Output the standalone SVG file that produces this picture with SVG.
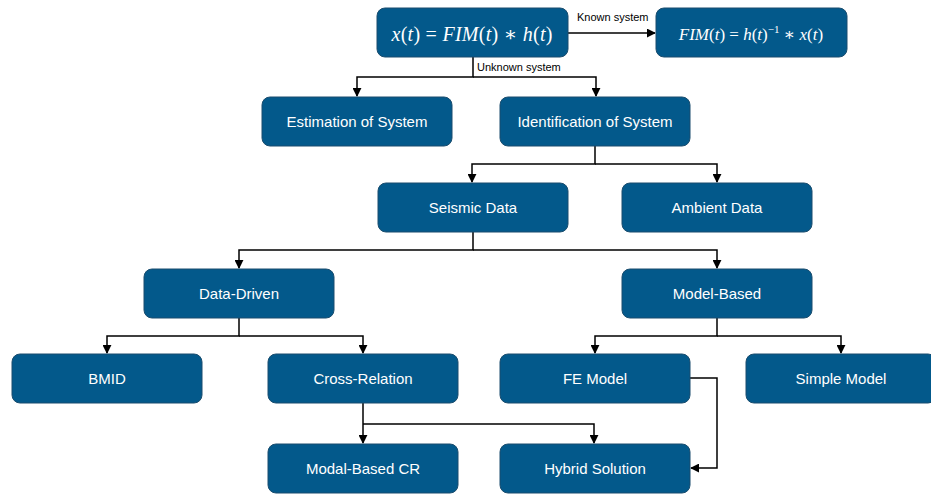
<svg xmlns="http://www.w3.org/2000/svg" width="931" height="496" viewBox="0 0 931 496">
<style>
.box{fill:#03598B;stroke:#1B4D6E;stroke-width:1}
.lbl{fill:#fff;font-family:"Liberation Sans",Arial,sans-serif;font-size:15px;text-anchor:middle}
.math{fill:#fff;font-family:"Liberation Serif","DejaVu Serif",serif;text-anchor:middle}
.it{font-style:italic}
.edge{fill:none;stroke:#000;stroke-width:1.5}
.elbl{fill:#000;font-family:"Liberation Sans",Arial,sans-serif;font-size:11px}
</style>
<defs>
<marker id="arr" viewBox="0 0 10 10" refX="9" refY="5" markerWidth="9" markerHeight="9" markerUnits="userSpaceOnUse" orient="auto">
<path d="M0,0 L10,5 L0,10 z" fill="#000"/>
</marker>
</defs>
<rect width="931" height="496" fill="#fff"/>
<g id="connectors">
<path class="edge" d="M568,33 H655" marker-end="url(#arr)"/>
<text class="elbl" x="577" y="21">Known system</text>
<path class="edge" d="M473,57 V77 H357 V96" marker-end="url(#arr)"/>
<path class="edge" d="M473,77 H596 V96" marker-end="url(#arr)"/>
<text class="elbl" x="477" y="71">Unknown system</text>
<path class="edge" d="M595,146 V164 H472 V182" marker-end="url(#arr)"/>
<path class="edge" d="M595,164 H717 V182" marker-end="url(#arr)"/>
<path class="edge" d="M473,232 V250 H239 V268" marker-end="url(#arr)"/>
<path class="edge" d="M473,250 H717 V268" marker-end="url(#arr)"/>
<path class="edge" d="M239,318 V336 H107 V353" marker-end="url(#arr)"/>
<path class="edge" d="M239,336 H363 V353" marker-end="url(#arr)"/>
<path class="edge" d="M717,318 V336 H595 V353" marker-end="url(#arr)"/>
<path class="edge" d="M717,336 H841 V353" marker-end="url(#arr)"/>
<path class="edge" d="M363,403 V443" marker-end="url(#arr)"/>
<path class="edge" d="M363,424 H594 V443" marker-end="url(#arr)"/>
<path class="edge" d="M690,378 H717 V468 H691" marker-end="url(#arr)"/>
</g>
<g id="n_conv">
<rect class="box" x="377" y="8" width="191" height="49" rx="8"/>
<text class="math" x="472" y="41" font-size="20" textLength="161" lengthAdjust="spacing"><tspan class="it">x</tspan>(<tspan class="it">t</tspan>) = <tspan class="it">FIM</tspan>(<tspan class="it">t</tspan>) ∗ <tspan class="it">h</tspan>(<tspan class="it">t</tspan>)</text>
</g>
<g id="n_known">
<rect class="box" x="656" y="8" width="191" height="49" rx="8"/>
<text class="math" x="751" y="40" font-size="17"><tspan class="it">FIM</tspan>(<tspan class="it">t</tspan>) = <tspan class="it">h</tspan>(<tspan class="it">t</tspan>)<tspan font-size="11" dy="-7">−1</tspan><tspan dy="7"> ∗ </tspan><tspan class="it">x</tspan>(<tspan class="it">t</tspan>)</text>
</g>
<g id="n_est"><rect class="box" x="262" y="97" width="190" height="49" rx="8"/><text class="lbl" x="357" y="127">Estimation of System</text></g>
<g id="n_ident"><rect class="box" x="500" y="97" width="190" height="49" rx="8"/><text class="lbl" x="595" y="127">Identification of System</text></g>
<g id="n_seismic"><rect class="box" x="378" y="183" width="190" height="49" rx="8"/><text class="lbl" x="473" y="213">Seismic Data</text></g>
<g id="n_ambient"><rect class="box" x="622" y="183" width="190" height="49" rx="8"/><text class="lbl" x="717" y="213">Ambient Data</text></g>
<g id="n_datadriven"><rect class="box" x="144" y="269" width="190" height="49" rx="8"/><text class="lbl" x="239" y="299">Data-Driven</text></g>
<g id="n_modelbased"><rect class="box" x="622" y="269" width="190" height="49" rx="8"/><text class="lbl" x="717" y="299">Model-Based</text></g>
<g id="n_bmid"><rect class="box" x="12" y="354" width="190" height="49" rx="8"/><text class="lbl" x="107" y="384">BMID</text></g>
<g id="n_cross"><rect class="box" x="268" y="354" width="190" height="49" rx="8"/><text class="lbl" x="363" y="384">Cross-Relation</text></g>
<g id="n_fe"><rect class="box" x="500" y="354" width="190" height="49" rx="8"/><text class="lbl" x="595" y="384">FE Model</text></g>
<g id="n_simple"><rect class="box" x="746" y="354" width="190" height="49" rx="8"/><text class="lbl" x="841" y="384">Simple Model</text></g>
<g id="n_modal"><rect class="box" x="268" y="444" width="190" height="49" rx="8"/><text class="lbl" x="363" y="474">Modal-Based CR</text></g>
<g id="n_hybrid"><rect class="box" x="500" y="444" width="190" height="49" rx="8"/><text class="lbl" x="595" y="474">Hybrid Solution</text></g>
</svg>
